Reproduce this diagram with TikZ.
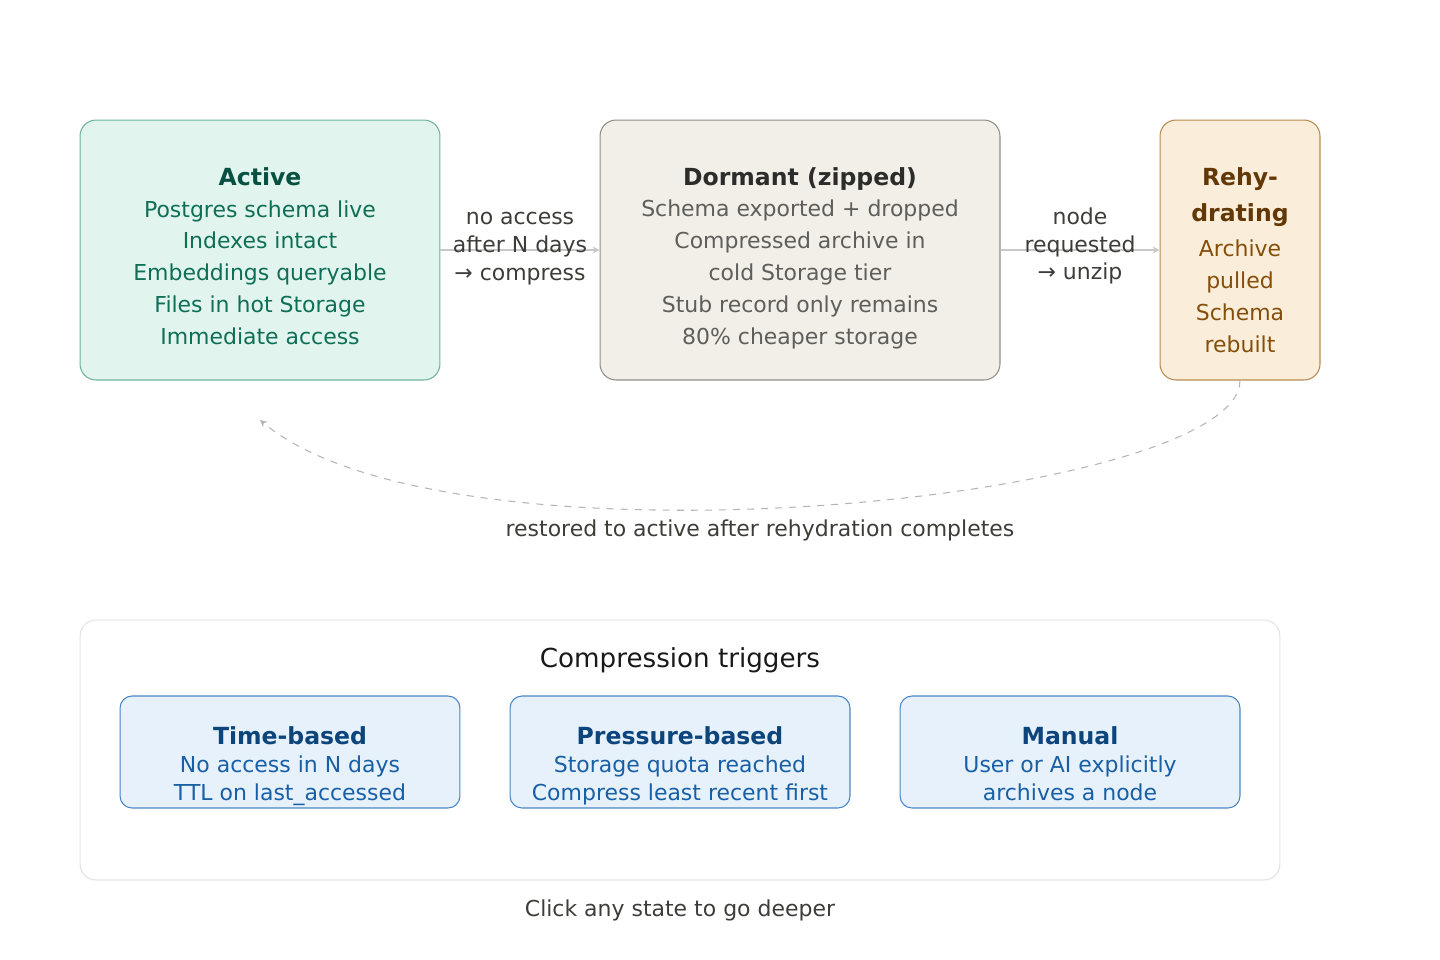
\documentclass[tikz,border=0pt]{standalone}
\usepackage{fontspec}
\setmainfont{DejaVu Sans}
\usetikzlibrary{arrows.meta,positioning,calc}
\definecolor{actfill}{HTML}{E1F5EE}
\definecolor{actline}{HTML}{6DB39B}
\definecolor{acttitle}{HTML}{085041}
\definecolor{acttext}{HTML}{0F6E56}
\definecolor{dorfill}{HTML}{F1EFE8}
\definecolor{dorline}{HTML}{8F8E88}
\definecolor{dortitle}{HTML}{2C2C2A}
\definecolor{dortext}{HTML}{5F5E5A}
\definecolor{rehfill}{HTML}{FAEEDA}
\definecolor{rehline}{HTML}{B98A4F}
\definecolor{rehtitle}{HTML}{633806}
\definecolor{rehtext}{HTML}{854F0B}
\definecolor{trgfill}{HTML}{E6F1FB}
\definecolor{trgline}{HTML}{4A86C5}
\definecolor{trgtitle}{HTML}{0C447C}
\definecolor{trgtext}{HTML}{185FA5}
\definecolor{gris}{HTML}{3D3D3A}
\definecolor{flecha}{HTML}{C8C8C8}
\definecolor{marco}{HTML}{E3E3E3}
\newcommand{\bodyf}{\fontsize{12.5}{18.1}\selectfont}
\newcommand{\ttl}[1]{{\bfseries\fontsize{13.4}{18.1}\selectfont #1}}

\begin{document}
\begin{tikzpicture}[x=0.02cm,y=-0.02cm,
    state/.style={draw,line width=0.6pt,rounded corners=0.32cm,
      inner sep=0pt,minimum height=5.2cm},
    txt/.style={align=center,inner sep=0pt,font=\bodyf},
    trig/.style={draw=trgline,fill=trgfill,line width=0.6pt,rounded corners=0.24cm,
      inner sep=0pt,minimum width=6.8cm,minimum height=2.24cm},
    trigtxt/.style={align=center,inner sep=0pt,text=trgtext,font=\fontsize{12.5}{15.9}\selectfont},
    lbl/.style={text=gris,align=center,font=\fontsize{12.5}{15.9}\selectfont},
    conn/.style={flecha,line width=0.6pt,-{Stealth[length=4pt,width=4pt]}}]
    \useasboundingbox (0,0) rectangle (1440,960);
    % states
    \node[state,draw=actline,fill=actfill,minimum width=7.2cm] (active) at (260,250) {};
    \node[txt,text=acttext] (activetxt) at ($(active)+(0,6)$)
      {\textcolor{acttitle}{\ttl{Active}}\\Postgres schema live\\Indexes intact\\Embeddings queryable\\Files in hot Storage\\Immediate access};
    \node[state,draw=dorline,fill=dorfill,minimum width=8cm] (dormant) at (800,250) {};
    \node[txt,text=dortext] (dormanttxt) at ($(dormant)+(0,8)$)
      {\textcolor{dortitle}{\ttl{Dormant (zipped)}}\\Schema exported + dropped\\Compressed archive in\\cold Storage tier\\Stub record only remains\\80\% cheaper storage};
    \node[state,draw=rehline,fill=rehfill,minimum width=3.2cm] (rehy) at (1240,250) {};
    \node[txt,text=rehtext] (rehytxt) at ($(rehy)+(0,10)$)
      {\textcolor{rehtitle}{\ttl{Rehy-}}\\[2.3pt]\textcolor{rehtitle}{\ttl{drating}}\\[2.3pt]Archive\\pulled\\Schema\\rebuilt};
    % transitions
    \draw[conn] (active) -- node[lbl,yshift=0.02cm] (compress) {no access\\after N days\\→ compress} (dormant);
    \draw[conn] (dormant) -- node[lbl,yshift=0.08cm] (unzip) {node\\requested\\→ unzip} (rehy);
    \coordinate (back) at (260,420);
    \draw[flecha!90!black,line width=0.6pt,dashed,dash pattern=on 4pt off 4pt,-{Stealth[length=4pt,width=4pt]}]
      (rehy.south) .. controls (1240,500) and (450,580) .. (back);
    \node[lbl] (restored) at (760,530) {restored to active after rehydration completes};
    % triggers
    \node[draw=marco,line width=0.6pt,rounded corners=0.32cm,minimum width=24cm,minimum height=5.2cm] (panel) at (680,750) {};
    \node[text=black!90,font=\fontsize{14.9}{18}\selectfont] (trigtitle) at (680,660) {Compression triggers};
    \node[trig] (timeb) at (290,752) {};
    \node[trigtxt] at ($(timeb)+(0,14)$) {\textcolor{trgtitle}{\ttl{Time-based}}\\No access in N days\\TTL on last\_accessed};
    \node[trig] (pressb) at (680,752) {};
    \node[trigtxt] at ($(pressb)+(0,14)$) {\textcolor{trgtitle}{\ttl{Pressure-based}}\\Storage quota reached\\Compress least recent first};
    \node[trig] (manual) at (1070,752) {};
    \node[trigtxt] at ($(manual)+(0,12)$) {\textcolor{trgtitle}{\ttl{Manual}}\\User or AI explicitly\\archives a node};
    \node[lbl] (hint) at (680,910) {Click any state to go deeper};
  \end{tikzpicture}
\end{document}
